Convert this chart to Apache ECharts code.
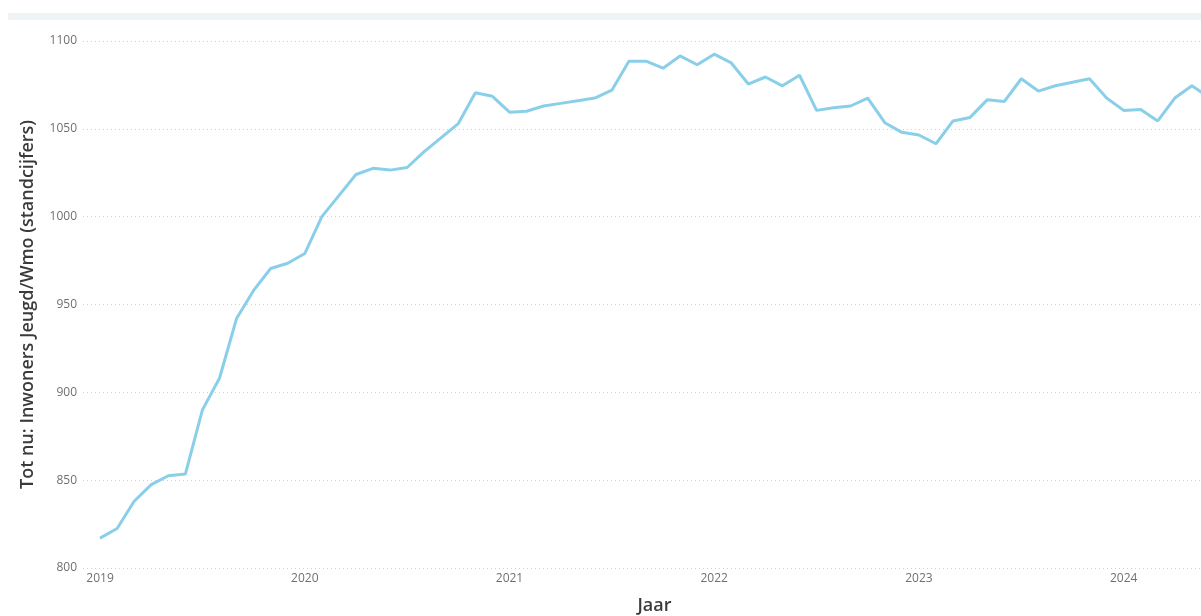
<!DOCTYPE html>
<html>
<head>
<meta charset="utf-8">
<script src="https://cdn.jsdelivr.net/npm/echarts@6/dist/echarts.min.js"></script>
<style>
html,body{margin:0;padding:0;background:#fff;width:1201px;height:616px;overflow:hidden;}
#chart{width:1226px;height:616px;}
</style>
</head>
<body>
<div id="chart"></div>
<script>
// Tick labels (years) on the x axis
const yearLabels = ['2019', '2020', '2021', '2022', '2023', '2024'];
// Monthly categories, 2019-01 .. 2024-06
const months = [
  '2019-01','2019-02','2019-03','2019-04','2019-05','2019-06','2019-07','2019-08','2019-09','2019-10','2019-11','2019-12',
  '2020-01','2020-02','2020-03','2020-04','2020-05','2020-06','2020-07','2020-08','2020-09','2020-10','2020-11','2020-12',
  '2021-01','2021-02','2021-03','2021-04','2021-05','2021-06','2021-07','2021-08','2021-09','2021-10','2021-11','2021-12',
  '2022-01','2022-02','2022-03','2022-04','2022-05','2022-06','2022-07','2022-08','2022-09','2022-10','2022-11','2022-12',
  '2023-01','2023-02','2023-03','2023-04','2023-05','2023-06','2023-07','2023-08','2023-09','2023-10','2023-11','2023-12',
  '2024-01','2024-02','2024-03','2024-04','2024-05','2024-06'
];
// Tot nu: Inwoners Jeugd/Wmo (standcijfers)
const values = [
  817, 822.5, 838, 847.5, 852.5, 853.5, 890, 908, 942, 958, 970.5, 973.5,
  979, 1000, 1012, 1024, 1027.5, 1026.5, 1028, 1037, 1045, 1053, 1070.5, 1068.5,
  1059.5, 1060, 1063, 1064.5, 1066, 1067.5, 1072, 1088.5, 1088.5, 1084.5, 1091.5, 1086.5,
  1092.5, 1087.5, 1075.5, 1079.5, 1074.5, 1080.5, 1060.5, 1062, 1063, 1067.5, 1053.5, 1048,
  1046.5, 1041.5, 1054.5, 1056.5, 1066.5, 1065.5, 1078.5, 1071.5, 1074.5, 1076.5, 1078.5, 1067.5,
  1060.5, 1061, 1054.5, 1067.5, 1074.5, 1068
];
const yTicks = [800, 850, 900, 950, 1000, 1050, 1100];

const seriesData = months.map((m, i) => [i, values[i]]);
const yearPositions = yearLabels.map((y) => months.indexOf(y + '-01'));

const chart = echarts.init(document.getElementById('chart'), null, {renderer: 'canvas'});
const font = '"Open Sans", "Noto Sans", sans-serif';
chart.setOption({
  animation: false,
  backgroundColor: '#ffffff',
  textStyle: {fontFamily: font},
  graphic: [{
    type: 'rect',
    shape: {x: 8, y: 13, width: 1230, height: 7},
    style: {fill: '#eef3f5'},
    silent: true
  }],
  grid: {left: 83, right: 0, top: 41, bottom: 48, containLabel: false, outerBoundsMode: 'none'},
  xAxis: {
    type: 'value',
    min: -1,
    max: months.length,
    name: 'Jaar',
    nameLocation: 'middle',
    nameGap: 29,
    nameTextStyle: {fontFamily: font, fontSize: 18, fontWeight: 600, color: '#3a3a3a'},
    axisLine: {show: false},
    axisTick: {show: false},
    splitLine: {show: false},
    axisLabel: {
      customValues: yearPositions,
      formatter: (v) => yearLabels[yearPositions.indexOf(v)] || '',
      fontFamily: font,
      fontSize: 12,
      color: '#707070',
      margin: 5
    }
  },
  yAxis: {
    type: 'value',
    min: yTicks[0],
    max: yTicks[yTicks.length - 1],
    interval: 50,
    name: 'Tot nu: Inwoners Jeugd/Wmo (standcijfers)',
    nameLocation: 'middle',
    nameGap: 46,
    nameTextStyle: {fontFamily: font, fontSize: 18, fontWeight: 600, color: '#3a3a3a'},
    axisLine: {show: false},
    axisTick: {show: false},
    axisLabel: {fontFamily: font, fontSize: 12, color: '#707070', margin: 6, formatter: (v) => String(v)},
    splitLine: {show: true, lineStyle: {color: '#d0d0d0', type: [1, 3], width: 1}}
  },
  series: [{
    type: 'line',
    data: seriesData,
    showSymbol: false,
    symbol: 'none',
    lineStyle: {color: '#8acfe9', width: 3},
    itemStyle: {color: '#8acfe9'},
    clip: true
  }]
});
</script>
</body>
</html>
